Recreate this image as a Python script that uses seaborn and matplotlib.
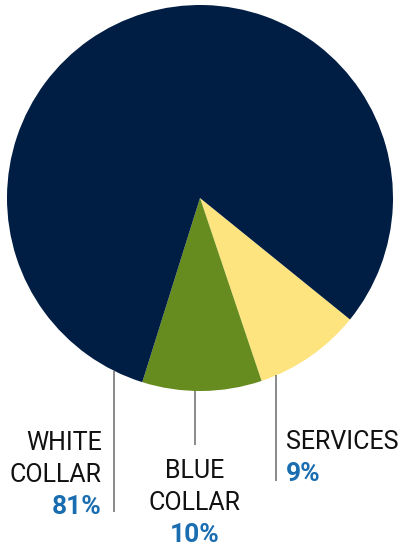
import numpy as np
import matplotlib
matplotlib.use("Agg")
import matplotlib.pyplot as plt
import seaborn as sns

# Workforce composition by occupation type
categories = ["SERVICES", "BLUE\nCOLLAR", "WHITE\nCOLLAR"]
shares = [9, 10, 81]
pct_labels = ["9%", "10%", "81%"]
colors = ["#fde47f", "#668c1f", "#001d43"]

sns.set_theme(style="white")
plt.rcParams["font.family"] = ["Roboto", "DejaVu Sans"]

W, H = 402, 550
fig = plt.figure(figsize=(W / 100, H / 100), dpi=100)
ax = fig.add_axes([0, 0, 1, 1])

cx, cy, r = 200, H - 198, 193
ax.pie(shares, colors=colors, startangle=-39, counterclock=False,
       center=(cx, cy), radius=r, frame=True,
       wedgeprops=dict(linewidth=0))
ax.set_xlim(0, W)
ax.set_ylim(0, H)
ax.set_aspect("equal")
ax.axis("off")

# leader lines dropping from the rim, and their labels
leader_x = [276, 195, 114]
leader_end = [H - 481, H - 445, H - 512]
text_x = [286, 195, 102]
text_align = ["left", "center", "right"]
text_top = [H - 449, H - 478, H - 450]
line_step = 32
fs = 18

for i in range(3):
    lx = leader_x[i]
    y0 = cy - np.sqrt(r ** 2 - (lx - cx) ** 2)
    ax.plot([lx, lx], [y0, leader_end[i]], color="#6b6b6b", lw=1.1,
            solid_capstyle="butt")
    lines = categories[i].split("\n")
    for j, t in enumerate(lines):
        ax.text(text_x[i], text_top[i] - j * line_step, t, ha=text_align[i],
                va="baseline", fontsize=fs, color="#111111")
    ax.text(text_x[i], text_top[i] - len(lines) * line_step, pct_labels[i],
            ha=text_align[i], va="baseline", fontsize=fs + 1, fontweight="bold",
            color="#1a6db0")

fig.savefig("out.png", dpi=100)
